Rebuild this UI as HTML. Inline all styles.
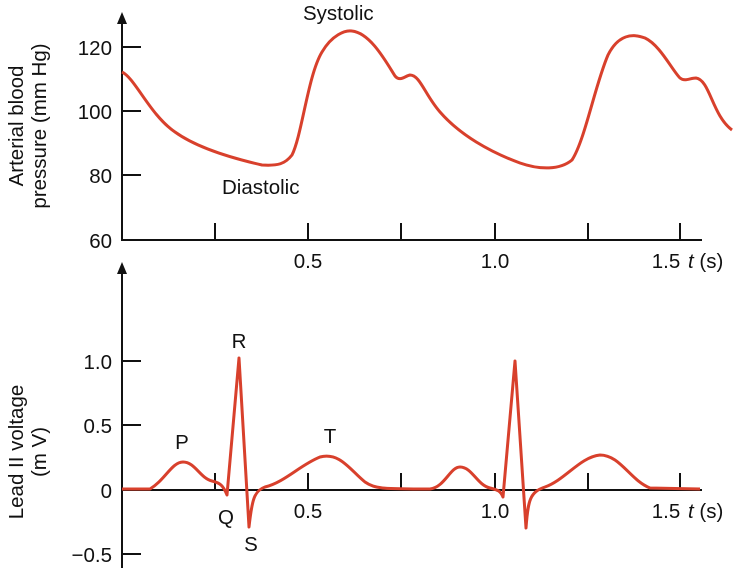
<!DOCTYPE html><html><head><style>body{margin:0;background:#fff}svg{display:block}text{font-family:"Liberation Sans",sans-serif;fill:#111}</style></head><body>
<svg width="750" height="576" viewBox="0 0 750 576">
<g stroke="#111" stroke-width="2" fill="none">
<line x1="122" y1="18" x2="122" y2="241"/><line x1="121" y1="240" x2="702" y2="240"/>
<line x1="122" y1="47" x2="141" y2="47"/><line x1="122" y1="111" x2="141" y2="111"/><line x1="122" y1="175" x2="141" y2="175"/>
<line x1="215" y1="223" x2="215" y2="240"/><line x1="308" y1="223" x2="308" y2="240"/><line x1="401" y1="223" x2="401" y2="240"/><line x1="495" y1="223" x2="495" y2="240"/><line x1="588" y1="223" x2="588" y2="240"/><line x1="680" y1="223" x2="680" y2="240"/>
<line x1="122" y1="268" x2="122" y2="568"/><line x1="121" y1="490" x2="702" y2="490"/>
<line x1="122" y1="361" x2="141" y2="361"/><line x1="122" y1="425" x2="141" y2="425"/><line x1="122" y1="554" x2="141" y2="554"/>
<line x1="215" y1="473" x2="215" y2="490"/><line x1="308" y1="473" x2="308" y2="490"/><line x1="401" y1="473" x2="401" y2="490"/><line x1="495" y1="473" x2="495" y2="490"/><line x1="588" y1="473" x2="588" y2="490"/><line x1="680" y1="473" x2="680" y2="490"/>
</g>
<polygon points="122,12 117,24 127,24" fill="#111"/><polygon points="122,262 117,274 127,274" fill="#111"/>
<g stroke="#d8402c" stroke-width="3" fill="none" stroke-linejoin="round">
<path d="M122,72 C135,78 150,115 175,132 C200,150 240,160 262,165 C278,166 285,164 292,155 C302,135 308,75 322,52 C332,35 345,30 352,31 C370,33 385,60 395,76 C400,82 405,76 410,75 C420,75 425,95 440,112 C460,135 490,152 520,163 C540,170 560,170 572,160 C585,140 595,85 608,55 C618,35 632,33 645,38 C660,45 672,70 680,78 C685,82 690,78 696,78 C710,80 712,115 732,130"/>
<path d="M122,489 L150,489 C165,480 172,462 183,462 C195,462 200,478 212,481 C220,483 223,485 227,495 L239,358 L249,527 C252,500 254,491 265,487 C285,482 300,465 320,457 C340,452 350,470 365,482 C375,489 385,489 430,489 C445,487 450,467 460,467 C472,467 477,485 490,488 C497,490 500,490 503,497 L515,361 L526,528 C528,500 530,492 545,487 C565,480 580,457 600,455 C620,455 630,480 650,488 L700,489"/>
</g>
<g font-size="20.5">
<text x="112" y="55" text-anchor="end">120</text><text x="112" y="119" text-anchor="end">100</text><text x="112" y="183" text-anchor="end">80</text><text x="112" y="248" text-anchor="end">60</text>
<text x="308" y="268" text-anchor="middle">0.5</text><text x="495" y="268" text-anchor="middle">1.0</text><text x="666" y="268" text-anchor="middle">1.5</text><text x="688" y="268"><tspan font-style="italic">t</tspan> (s)</text>
<text x="112" y="369" text-anchor="end">1.0</text><text x="112" y="433" text-anchor="end">0.5</text><text x="112" y="498" text-anchor="end">0</text><text x="112" y="562" text-anchor="end">−0.5</text>
<text x="308" y="518" text-anchor="middle">0.5</text><text x="495" y="518" text-anchor="middle">1.0</text><text x="666" y="518" text-anchor="middle">1.5</text><text x="688" y="518"><tspan font-style="italic">t</tspan> (s)</text>
<text x="303" y="20">Systolic</text><text x="222" y="194">Diastolic</text>
<text x="182" y="449" text-anchor="middle">P</text><text x="239" y="348" text-anchor="middle">R</text><text x="330" y="443" text-anchor="middle">T</text><text x="226" y="524" text-anchor="middle">Q</text><text x="251" y="551" text-anchor="middle">S</text>
<text transform="translate(23,126) rotate(-90)" text-anchor="middle">Arterial blood</text>
<text transform="translate(46,126) rotate(-90)" text-anchor="middle">pressure (mm Hg)</text>
<text transform="translate(23,452) rotate(-90)" text-anchor="middle">Lead II voltage</text>
<text transform="translate(46,452) rotate(-90)" text-anchor="middle">(m V)</text>
</g>
</svg></body></html>
